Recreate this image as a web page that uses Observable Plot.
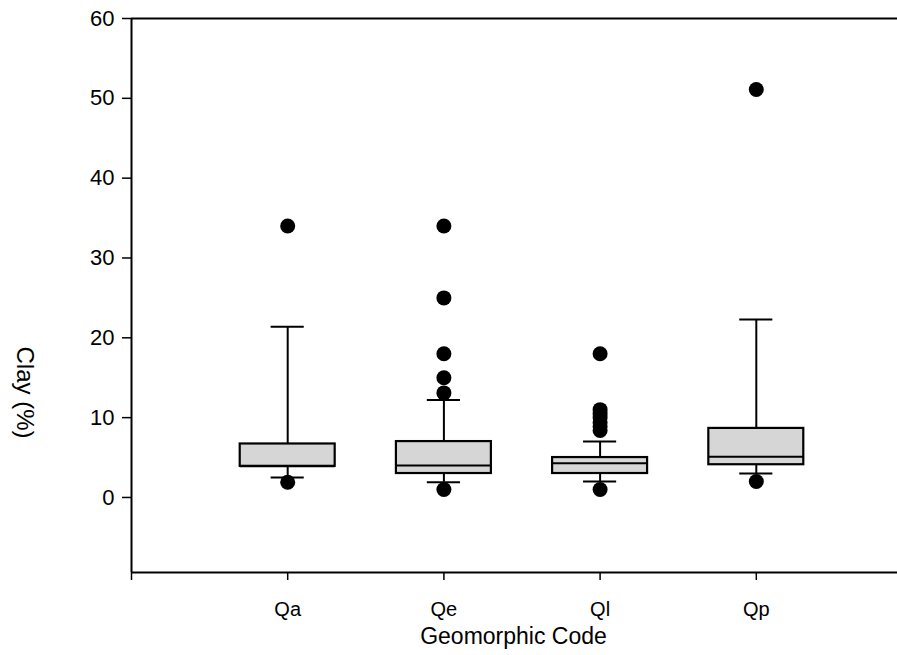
<!DOCTYPE html>
<html>
<head>
<meta charset="utf-8">
<script src="https://cdn.jsdelivr.net/npm/d3@7"></script>
<script src="https://cdn.jsdelivr.net/npm/@observablehq/plot@0.6"></script>
<style>
  html, body { margin: 0; padding: 0; background: #fff; }
  #chart svg { display: block; }
  #chart svg g[aria-label="y-axis tick label"] { font-size: 22px; }
  #chart svg g[aria-label="x-axis tick label"] { font-size: 20px; }
</style>
</head>
<body>
<div id="chart"></div>
<script>
// ---- data ----
const categories = ["Qa", "Qe", "Ql", "Qp"];
const q1         = [3.9, 3.0, 3.0, 4.1];
const medians    = [3.9, 4.0, 4.3, 5.1];
const q3         = [6.7, 7.0, 5.0, 8.65];
const whiskerLo  = [2.5, 1.9, 2.0, 3.0];
const whiskerHi  = [21.4, 12.2, 7.0, 22.3];
const outliersQa = [34, 1.9];
const outliersQe = [34, 25, 18, 15, 13.1, 1.0];
const outliersQl = [18, 11, 10.5, 10, 9.4, 8.9, 8.4, 1.0];
const outliersQp = [51.1, 2.0];
const yTicks = [0, 10, 20, 30, 40, 50, 60];
const yDomain = [-9.4, 60];
const xDomain = [0, 5];

// ---- tables built from the arrays ----
const stats = categories.map((c, i) => ({
  cat: c, x: i + 1, q1: q1[i], median: medians[i], q3: q3[i],
  lo: whiskerLo[i], hi: whiskerHi[i]
}));
const outlierLists = [outliersQa, outliersQe, outliersQl, outliersQp];
const outliers = outlierLists.flatMap((arr, i) => arr.map(v => ({x: i + 1, value: v})));

const boxHalf = 0.304;
const capHalf = 0.106;

const chart = Plot.plot({
  width: 897,
  height: 655,
  marginLeft: 131,
  marginRight: 0,
  marginTop: 18,
  marginBottom: 83,
  style: {fontFamily: "'Liberation Sans', Arial, sans-serif", background: "#fff", color: "#000"},
  x: {type: "linear", domain: xDomain, range: [131, 912]},
  y: {domain: yDomain},
  marks: [
    // frame lines
    Plot.ruleY([yDomain[1]], {stroke: "#000", strokeWidth: 2}),
    Plot.ruleY([yDomain[0]], {stroke: "#000", strokeWidth: 2}),
    Plot.ruleX([xDomain[0]], {stroke: "#000", strokeWidth: 2}),
    // axes
    Plot.axisY({ticks: yTicks, tickSize: 9, tickPadding: 8, fontSize: 22, label: null, strokeWidth: 1.5}),
    Plot.axisX({ticks: [0, 1, 2, 3, 4], tickFormat: i => categories[i - 1] ?? "", tickSize: 8, tickPadding: 21, fontSize: 20, label: null, strokeWidth: 1.5}),
    // whiskers
    Plot.ruleX(stats, {x: "x", y1: "q3", y2: "hi", stroke: "#000", strokeWidth: 2}),
    Plot.ruleX(stats, {x: "x", y1: "lo", y2: "q1", stroke: "#000", strokeWidth: 2}),
    Plot.ruleY(stats, {y: "hi", x1: d => d.x - capHalf, x2: d => d.x + capHalf, stroke: "#000", strokeWidth: 2}),
    Plot.ruleY(stats, {y: "lo", x1: d => d.x - capHalf, x2: d => d.x + capHalf, stroke: "#000", strokeWidth: 2}),
    // boxes
    Plot.rect(stats, {x1: d => d.x - boxHalf, x2: d => d.x + boxHalf, y1: "q1", y2: "q3", fill: "#d6d6d6", stroke: "#000", strokeWidth: 2.2}),
    Plot.ruleY(stats, {y: "median", x1: d => d.x - boxHalf, x2: d => d.x + boxHalf, stroke: "#000", strokeWidth: 2}),
    // outliers
    Plot.dot(outliers, {x: "x", y: "value", r: 7.5, fill: "#000", stroke: "none"}),
    // axis titles
    Plot.text(["Clay (%)"], {frameAnchor: "left", textAnchor: "middle", lineAnchor: "middle", dx: -107, dy: 97, rotate: 90, fontSize: 24, fill: "#000"}),
    Plot.text(["Geomorphic Code"], {frameAnchor: "bottom", textAnchor: "middle", dx: -1, dy: 71, fontSize: 23, fill: "#000"})
  ]
});
document.getElementById("chart").appendChild(chart);
</script>
</body>
</html>
